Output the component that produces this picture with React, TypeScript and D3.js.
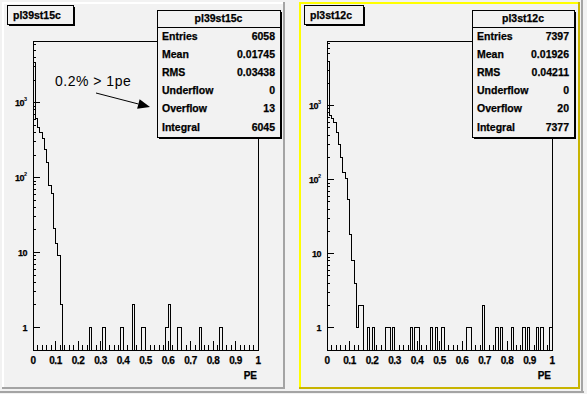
import * as d3 from 'd3';
import React from 'react';

const W = 587;
const H = 394;
const NBINS = 100;

// bin contents (100 bins on [0,1])
const leftHead = [3460, 620, 470, 400, 330, 240, 160, 78, 62, 21, 13, 9, 2];
const leftTailBins = [25, 31, 39, 44, 48, 49, 59, 60, 64, 65, 74, 83];
const leftTailVals = [1, 1, 1, 2, 1, 1, 1, 2, 1, 1, 1, 1];

const rightHead = [3935, 740, 680, 590, 440, 294, 198, 124, 103, 54, 18, 8, 4, 1, 2, 2];
const rightTailBins = [18, 20, 26, 27, 29, 37, 39, 40, 46, 48, 51, 62, 63, 69, 75, 77, 82, 87, 89, 93, 95, 99];
const rightTailVals = [1, 1, 1, 1, 1, 1, 1, 1, 1, 1, 1, 1, 1, 2, 1, 1, 1, 1, 1, 1, 1, 1];

const statLabels = ['Entries', 'Mean', 'RMS', 'Underflow', 'Overflow', 'Integral'];
const leftStats = ['6058', '0.01745', '0.03438', '0', '13', '6045'];
const rightStats = ['7397', '0.01926', '0.04211', '0', '20', '7377'];

const xTickLabels = ['0', '0.1', '0.2', '0.3', '0.4', '0.5', '0.6', '0.7', '0.8', '0.9', '1'];
const yDecades = [1, 10, 100, 1000];
const yDecadeExp = ['', '', '2', '3'];

const FONT = '"Liberation Sans", Arial, sans-serif';

function buildBins(head: number[], tb: number[], tv: number[]) {
  const b = new Array(NBINS).fill(0);
  head.forEach((v, i) => (b[i] = v));
  tb.forEach((idx, i) => (b[idx] = tv[i]));
  return b;
}

interface PanelProps {
  pad: { x: number; y: number; w: number; h: number };
  frame: { x0: number; x1: number; y0: number; y1: number };
  bins: number[];
  ymax: number;
  title: string;
  titleW: number;
  stats: string[];
  statBox: { x: number; w: number };
  hl: boolean;
  children?: any;
}

function Panel(props: PanelProps) {
  const { pad, frame, bins, ymax, title, titleW, stats, statBox, hl } = props;
  const x = d3.scaleLinear().domain([0, 1]).range([frame.x0, frame.x1]);
  const y = d3.scaleLog().domain([0.5, ymax]).range([frame.y1, frame.y0]).clamp(true);
  const bottom = frame.y1;

  const pts: [number, number][] = [[x(0), bottom]];
  bins.forEach((v, i) => {
    const yy = v > 0 ? y(v) : bottom;
    pts.push([x(i / NBINS), yy], [x((i + 1) / NBINS), yy]);
  });
  pts.push([x(1), bottom]);
  const line = d3.line();

  const majorX = xTickLabels.map((_, i) => i / 10);
  const minorX = d3.range(0, 51).map(i => i / 50);
  const minorY: number[] = [];
  yDecades.forEach(d => {
    for (let k = 2; k <= 9; k++) if (d * k <= ymax) minorY.push(d * k);
  });

  const lightC = hl ? '#ffff00' : '#ffffff';
  const darkC = hl ? '#c8b400' : '#a4a4a4';
  const sb = { x: statBox.x, y: 10, w: statBox.w, h: 127 };
  const rowY = [39.5, 57.7, 75.9, 94.1, 112.3, 130.5];
  const heavy = { stroke: '#000', strokeWidth: 0.25 };

  return (
    <g>
      <rect x={pad.x} y={pad.y} width={pad.w} height={pad.h} fill="#f2f2f2" />
      <rect x={pad.x} y={pad.y} width={pad.w} height={2} fill={lightC} />
      <rect x={pad.x} y={pad.y} width={2} height={pad.h} fill={lightC} />
      <rect x={pad.x} y={pad.y + pad.h - 2} width={pad.w} height={2} fill={darkC} />
      <rect x={pad.x + pad.w - 2} y={pad.y} width={2} height={pad.h} fill={darkC} />

      {/* frame */}
      <rect x={frame.x0} y={frame.y0} width={frame.x1 - frame.x0} height={frame.y1 - frame.y0}
        fill="none" stroke="#000" strokeWidth={1} shapeRendering="crispEdges" />
      <path d={line(pts) || ''} fill="none" stroke="#000" strokeWidth={1} shapeRendering="crispEdges" />

      {/* x axis ticks */}
      {minorX.map((t, i) => (
        <line key={'mx' + i} x1={x(t)} x2={x(t)} y1={bottom} y2={bottom - 5} stroke="#000" shapeRendering="crispEdges" />
      ))}
      {majorX.map((t, i) => (
        <line key={'Mx' + i} x1={x(t)} x2={x(t)} y1={bottom} y2={bottom - 9} stroke="#000" shapeRendering="crispEdges" />
      ))}
      {xTickLabels.map((lab, i) => (
        <text key={'lx' + i} x={x(majorX[i])} y={364} textAnchor="middle" fontFamily={FONT}
          fontWeight="bold" fontSize={10} letterSpacing={-0.5} {...heavy}>{lab}</text>
      ))}
      <text x={x(1) - 1} y={379} textAnchor="end" fontFamily={FONT} fontWeight="bold" fontSize={10} {...heavy}>PE</text>

      {/* y axis ticks */}
      {minorY.map((t, i) => (
        <line key={'my' + i} x1={frame.x0} x2={frame.x0 + 3} y1={y(t)} y2={y(t)} stroke="#000" shapeRendering="crispEdges" />
      ))}
      {yDecades.map((t, i) => (
        <line key={'My' + i} x1={frame.x0} x2={frame.x0 + 7} y1={y(t)} y2={y(t)} stroke="#000" shapeRendering="crispEdges" />
      ))}
      {yDecades.map((t, i) => (
        <g key={'ly' + i}>
          <text x={frame.x0 - (yDecadeExp[i] ? 9 : 6)} y={y(t) + 3.5} textAnchor="end" fontFamily={FONT}
            fontWeight="bold" fontSize={9} letterSpacing={-0.5} {...heavy}>{t > 10 ? '10' : String(t)}</text>
          {yDecadeExp[i] && (
            <text x={frame.x0 - 9} y={y(t) - 1.5} fontFamily={FONT} fontWeight="bold" fontSize={5.5}>{yDecadeExp[i]}</text>
          )}
        </g>
      ))}

      {props.children}

      {/* title box */}
      <rect x={pad.x + 7} y={7} width={titleW} height={19} fill="#000" />
      <rect x={pad.x + 5} y={5} width={titleW} height={19} fill="#f2f2f2" stroke="#000" strokeWidth={1} shapeRendering="crispEdges" />
      <text x={pad.x + 11} y={18.5} fontFamily={FONT} fontWeight="bold" fontSize={10.5} {...heavy}>{title}</text>

      {/* stats box */}
      <rect x={sb.x + 2} y={sb.y + 2} width={sb.w} height={sb.h} fill="#000" />
      <rect x={sb.x} y={sb.y} width={sb.w} height={sb.h} fill="#f2f2f2" stroke="#000" strokeWidth={1} shapeRendering="crispEdges" />
      <line x1={sb.x} x2={sb.x + sb.w} y1={27} y2={27} stroke="#000" shapeRendering="crispEdges" />
      <text x={sb.x + sb.w / 2} y={22} textAnchor="middle" fontFamily={FONT} fontWeight="bold" fontSize={10.5} {...heavy}>{title}</text>
      {statLabels.map((lab, i) => (
        <g key={'st' + i}>
          <text x={sb.x + 5} y={rowY[i]} fontFamily={FONT} fontWeight="bold" fontSize={10.5} {...heavy}>{lab}</text>
          <text x={sb.x + sb.w - 5} y={rowY[i]} textAnchor="end" fontFamily={FONT} fontWeight="bold" fontSize={10.5} {...heavy}>{stats[i]}</text>
        </g>
      ))}
    </g>
  );
}

export default function App() {
  const leftBins = buildBins(leftHead, leftTailBins, leftTailVals);
  const rightBins = buildBins(rightHead, rightTailBins, rightTailVals);

  // annotation arrow
  const a0: [number, number] = [96, 93];
  const a1: [number, number] = [150, 107];
  const ang = Math.atan2(a1[1] - a0[1], a1[0] - a0[0]);
  const hl = 12;
  const hw = 5;
  const bx = a1[0] - hl * Math.cos(ang);
  const by = a1[1] - hl * Math.sin(ang);
  const head = [
    a1,
    [bx + hw * Math.sin(ang), by - hw * Math.cos(ang)],
    [bx - hw * Math.sin(ang), by + hw * Math.cos(ang)],
  ];

  return (
    <svg width={W} height={H} style={{ position: 'absolute', left: 0, top: 0 }}>
      <rect x={0} y={0} width={W} height={H} fill="#f2f2f2" />
      <rect x={0} y={391} width={584} height={2} fill="#a4a4a4" />
      <rect x={581} y={0} width={2} height={393} fill="#a4a4a4" />

      <Panel pad={{ x: 2, y: 2, w: 283, h: 387 }} frame={{ x0: 33, x1: 258, y0: 41, y1: 350 }}
        bins={leftBins} ymax={6650} title="pl39st15c" titleW={66} stats={leftStats}
        statBox={{ x: 157, w: 123 }} hl={false}>
        <text x={55} y={86} fontFamily={FONT} fontSize={14} letterSpacing={0.5}>0.2% &gt; 1pe</text>
        <line x1={a0[0]} y1={a0[1]} x2={bx} y2={by} stroke="#000" strokeWidth={1} />
        <polygon points={head.map(p => p.join(',')).join(' ')} fill="#000" />
      </Panel>

      <Panel pad={{ x: 299, y: 2, w: 281, h: 387 }} frame={{ x0: 327, x1: 552, y0: 41, y1: 350 }}
        bins={rightBins} ymax={7460} title="pl3st12c" titleW={59} stats={rightStats}
        statBox={{ x: 472, w: 102 }} hl={true} />
    </svg>
  );
}
